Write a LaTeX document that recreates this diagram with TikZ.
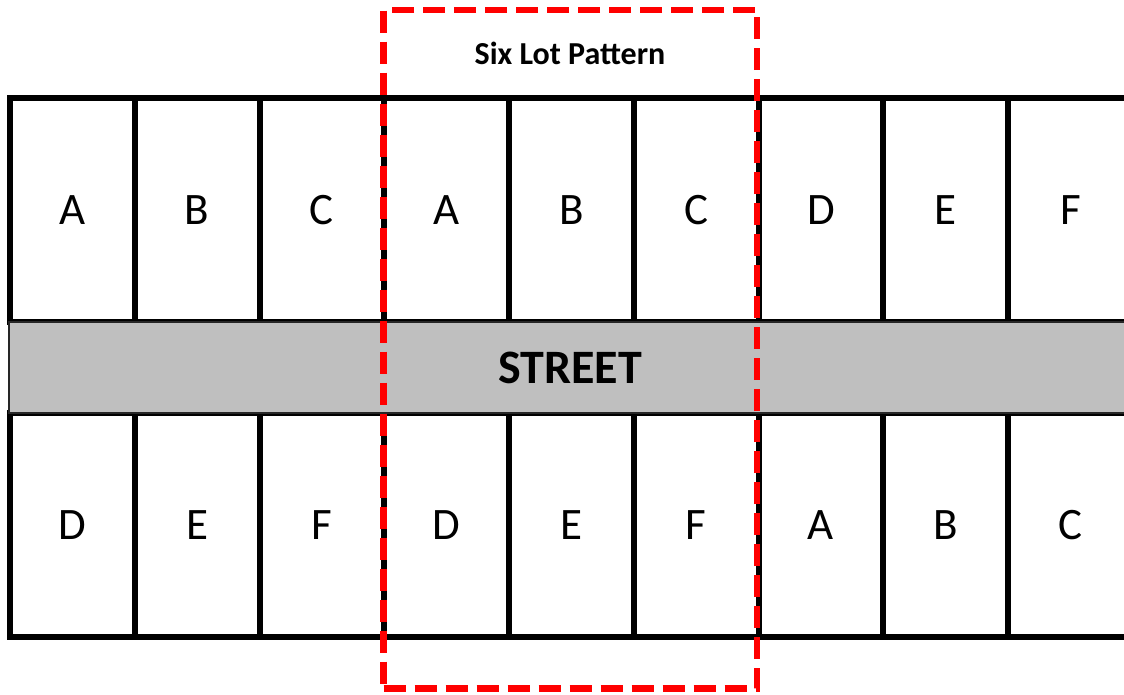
\documentclass[tikz,border=0pt]{standalone}
\usepackage{fontspec}
\setmainfont{Carlito}
\definecolor{streetgray}{RGB}{191,191,191}
\definecolor{patred}{RGB}{255,0,0}
\begin{document}
\begin{tikzpicture}[x=1pt,y=-1pt,
  lot/.style={draw=black,line width=6pt,minimum width=124.75pt,minimum height=224pt,
    inner sep=0pt,outer sep=0pt,anchor=north west,font=\fontsize{45}{50}\selectfont},
  street/.style={fill=streetgray,draw=black!85,line width=1.8pt,minimum width=1122pt,
    minimum height=91pt,inner sep=0pt,outer sep=0pt,font=\fontsize{48}{54}\selectfont\bfseries},
  pattern/.style={draw=patred,line width=6.5pt,dash pattern=on 22pt off 9pt,
    minimum width=373.5pt,minimum height=678.5pt,inner sep=0pt,outer sep=0pt},
  title/.style={font=\fontsize{32}{36}\selectfont\bfseries,inner sep=0pt}]
\useasboundingbox (0,0) rectangle (1124,694);
\clip (0,0) rectangle (1124,694);
\fill[white] (0,0) rectangle (1124,694);
\foreach \i/\lt/\lb in {0/A/D,1/B/E,2/C/F,3/A/D,4/B/E,5/C/F,6/D/A,7/E/B,8/F/C}{
  \node[lot] (t\i) at ({10+\i*124.75},98) {\lt};
  \node[lot] (b\i) at ({10+\i*124.75},413) {\lb};
}
\node[street] (street) at (570,367.5) {STREET};
\node[pattern] (pat) at (570.25,349.25) {};
\node[title] (ttl) at (570,53) {Six Lot Pattern};
\end{tikzpicture}
\end{document}
